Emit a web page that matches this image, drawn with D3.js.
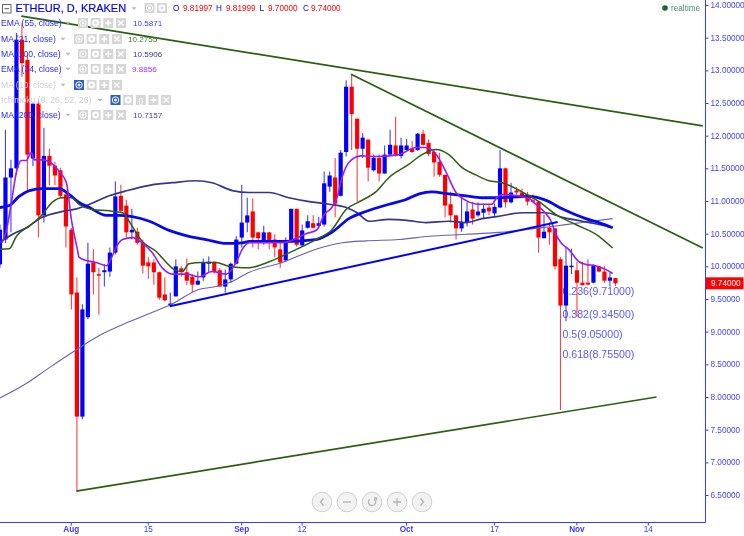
<!DOCTYPE html>
<html><head><meta charset="utf-8">
<script src="https://cdn.jsdelivr.net/npm/d3@7"></script>
<style>
html,body{margin:0;padding:0;background:#fff}
svg{display:block;filter:blur(0.3px)}
text{font-family:"Liberation Sans",Arial,sans-serif}
</style></head><body><svg id="c" width="744" height="536"></svg>
<script>
// ---------- data ----------
const firstDay = -13; // days relative to 1 Aug
const candles = [ // open, high, low, close
[10.03,10.64,9.98,10.56],[10.41,12.09,10.36,11.36],[11.36,11.63,10.52,11.50],[11.50,13.57,11.40,13.47],
[13.47,13.72,12.90,13.11],[13.16,13.24,11.17,11.71],[11.65,12.49,11.53,12.49],[12.49,12.55,10.44,10.78],
[10.78,12.12,10.67,11.69],[11.69,11.80,11.24,11.54],[11.54,11.60,11.24,11.39],[11.47,11.51,11.05,11.08],
[11.10,11.13,10.29,10.61],[10.56,10.59,9.34,9.57],[9.60,9.83,6.56,7.70],[7.70,9.42,7.66,9.34],
[9.22,10.36,9.19,10.04],[10.06,10.26,9.57,9.91],[9.88,9.98,9.26,9.86],[9.91,10.03,9.69,9.94],
[9.92,10.29,9.84,10.21],[10.21,11.30,10.18,11.07],[11.08,11.25,10.82,10.85],[10.93,11.02,10.44,10.52],
[10.52,10.88,10.41,10.56],[10.53,10.59,10.33,10.36],[10.36,10.41,9.89,10.01],[10.06,10.14,9.81,10.00],
[10.06,10.11,9.72,9.91],[9.91,9.92,9.49,9.52],[9.57,9.83,9.46,9.48],[9.42,9.60,9.39,9.43],
[9.54,10.11,9.54,10.00],[9.97,10.00,9.84,9.91],[9.91,10.12,9.71,9.78],[9.84,9.88,9.60,9.72],
[9.72,9.92,9.71,9.78],[9.83,10.12,9.78,10.06],[10.04,10.15,9.91,10.07],[10.07,10.07,9.89,9.91],
[9.94,9.97,9.69,9.69],[9.69,9.95,9.60,9.80],[9.80,10.06,9.75,10.04],[10.04,10.46,10.03,10.41],
[10.44,11.25,10.29,10.67],[10.67,11.05,10.52,10.78],[10.84,11.04,10.29,10.44],[10.52,10.53,10.26,10.43],
[10.38,10.62,10.33,10.52],[10.52,10.53,10.26,10.38],[10.41,10.49,10.14,10.29],[10.26,10.36,9.98,10.06],
[10.09,10.44,10.07,10.36],[10.38,10.88,10.36,10.88],[10.88,10.88,10.30,10.33],[10.32,10.64,10.30,10.55],
[10.59,10.78,10.58,10.69],[10.66,10.78,10.58,10.59],[10.62,10.76,10.59,10.66],[10.64,11.45,10.61,11.27],
[11.22,11.45,11.14,11.39],[11.36,11.66,10.75,10.96],[11.08,11.78,11.07,11.74],[11.75,12.85,11.68,12.75],
[12.75,12.93,11.78,12.33],[12.26,12.26,10.99,11.80],[11.80,12.04,11.66,11.97],[11.94,11.94,11.30,11.51],
[11.47,11.71,11.45,11.66],[11.66,11.71,11.30,11.42],[11.42,11.85,11.42,11.71],[11.71,12.09,11.71,11.86],
[11.85,12.29,11.68,11.69],[11.69,11.97,11.65,11.85],[11.78,11.95,11.77,11.85],[11.80,11.92,11.74,11.75],
[11.78,12.04,11.77,12.03],[12.03,12.09,11.85,11.86],[11.89,11.94,11.69,11.72],[11.75,11.78,11.37,11.59],
[11.60,11.74,11.37,11.40],[11.40,11.40,10.75,10.93],[10.95,11.14,10.67,10.78],[10.78,10.79,10.41,10.58],
[10.58,11.05,10.53,10.67],[10.67,10.99,10.61,10.84],[10.87,10.99,10.64,10.73],[10.78,10.98,10.76,10.84],
[10.82,10.96,10.72,10.88],[10.90,10.95,10.78,10.84],[10.81,10.96,10.75,10.91],[10.90,11.78,10.90,11.50],
[11.50,11.51,10.90,10.98],[10.98,11.28,10.96,11.13],[11.16,11.21,11.05,11.13],[11.13,11.19,11.05,11.07],
[11.10,11.14,10.93,10.99],[11.01,11.10,10.96,10.99],[10.99,10.99,10.21,10.44],[10.43,10.79,10.43,10.53],
[10.59,10.67,10.33,10.52],[10.58,10.58,9.95,10.00],[10.11,10.14,7.80,9.40],[9.40,10.29,9.16,10.01],
[10.00,10.27,9.88,10.01],[9.94,10.07,9.23,9.75],[9.75,10.07,9.71,9.71],[9.75,10.11,9.71,9.72],
[9.75,10.03,9.74,10.01],[10.00,10.01,9.91,9.92],[9.92,10.00,9.75,9.78],[9.78,9.91,9.69,9.83],
[9.82,9.82,9.70,9.74]];

const ema34Days = [-12.5,-11.7,-10.8,-9.9,-9,-8.1,-7.2,-6.6,-5.2,-3.9,-2.1,-0.8,0.1,1.2,1.5,2.8,4.6,6.5,7.5,8.3,9.4,11.2,13,14.8,16.6,18.5,21,23.4,25.7,28.3,30.1,31.2,32.5,33.7,38.5,42.8,44.8,46.1,47.5,48.5,49.4,50.6,52.8,55.5,59.7,62.8,64.6,66.5,68.3,70.1,71.9,74.3,76.6,77.5,78.6,83.4,84.6,86.1,87.4,88.3,89.2,90.6,92.5,93.7,95.5,97.4,98.6];
const ema34Vals = [10.36,10.56,10.98,11.44,11.62,11.62,11.74,11.63,11.63,11.60,11.45,11.28,10.72,10.26,10.14,10.09,10.06,10.01,10.15,10.30,10.41,10.44,10.36,10.21,9.98,9.88,9.88,9.84,9.92,9.88,10.06,10.26,10.36,10.36,10.36,10.50,10.56,10.79,10.90,11.07,11.37,11.59,11.69,11.68,11.71,11.82,11.82,11.71,11.44,11.13,11.01,10.95,10.95,11.05,11.10,11.04,10.95,10.84,10.69,10.49,10.36,10.26,10.07,10.03,10.01,9.95,9.89];
const ema55Days = [-13,-11.2,-9.4,-7.5,-5.2,-2.1,-0.3,1.5,3.4,6.5,8.8,11.2,14.3,17.9,21.5,24.6,28.3,31.2,32.5,38.5,44.6,47.5,50.6,53.7,57.9,60.9,63.4,65.7,68.8,71.9,74.8,77.5,83.4,86.5,89.4,93.7,96.1,98.6];
const ema55Vals = [10.90,10.93,11.07,11.16,11.19,11.19,11.10,10.98,10.90,10.78,10.78,10.76,10.69,10.55,10.46,10.41,10.35,10.36,10.38,10.38,10.41,10.52,10.73,10.84,10.95,11.02,11.11,11.14,11.11,11.08,11.05,11.05,11.07,11.01,10.88,10.73,10.67,10.59];
const ma100Days = [-13,-10.6,-8.1,-5.2,-1.5,1,3.4,7,10.3,14.3,18.5,22.8,25.7,29.4,32.5,36.1,39.7,43.4,47,50.1,52.1,54.3,57.9,61.5,64.6,68.8,71.9,74.8,77.5,82.1,86.5,89.4,93.1,96.1,98.6];
const ma100Vals = [10.36,10.49,10.59,10.75,10.84,10.88,10.95,11.08,11.16,11.24,11.28,11.31,11.28,11.16,11.13,11.13,11.05,10.99,10.95,10.90,10.82,10.69,10.72,10.70,10.67,10.69,10.67,10.73,10.76,10.82,10.82,10.75,10.69,10.64,10.59];
const ma21Days = [-13,-11.2,-9.9,-7.5,-5.2,-3.4,-1.5,0.1,1.5,3.9,7,9.4,11.2,13,15.5,17.4,18.8,20.3,21.5,23.9,26.4,28.8,31.2,32.5,36.1,40.3,44.6,47.5,50.1,52.5,55.5,57.9,61.5,63.9,66.5,68.8,71.2,73.7,76.1,78.5,82.1,85.2,88.3,91.9,96.1,98.6];
const ma21Vals = [10.26,10.27,10.46,10.62,10.79,10.98,11.05,11.05,10.95,10.87,10.85,10.82,10.61,10.38,10.23,10.06,9.95,9.92,10.04,10.06,10.06,10.00,9.98,9.98,10.07,10.23,10.41,10.56,10.87,10.99,11.14,11.36,11.56,11.71,11.79,11.71,11.51,11.40,11.31,11.28,11.14,10.99,10.79,10.64,10.46,10.28];
const ma200Days = [-13,-8.4,-3.9,0.6,5.2,10.6,16.1,17.9,23.4,26.5,28.8,32.5,38.5,44.6,49.4,53.7,59.7,65.2,71.9,77.9,87.5,93,98.6];
const ma200Vals = [7.98,8.19,8.45,8.70,8.94,9.15,9.34,9.40,9.65,9.69,9.75,9.91,10.06,10.26,10.36,10.39,10.41,10.46,10.49,10.52,10.61,10.67,10.73];

const greenTrends = [[[-9,13.83],[115,12.15]],[[51,12.94],[115,10.28]],[[1,6.56],[106.6,8.0]]];
const blueTrend = [[18,9.39],[88.6,10.68]];

const priceTicks = [14,13.5,13,12.5,12,11.5,11,10.5,10,9.5,9,8.5,8,7.5,7,6.5];
const dateTickDays = [0,14,31,42,61,77,92,105];
const dateTickLabels = ["Aug","15","Sep","12","Oct","17","Nov","14"];
const monthLabels = ["Aug","Sep","Oct","Nov"];

const fibLabels = ["0.236(9.71000)","0.382(9.34500)","0.5(9.05000)","0.618(8.75500)"];
const fibPrices = [9.62,9.27,8.96,8.66];

const legendLabels = ["EMA (55, close)","MA (21, close)","MA (100, close)","EMA (34, close)","MA (10, close)","Ichimoku (9, 26, 52, 26)","MA (200, close)"];
const legendValues = ["10.5871","10.2755","10.5906","9.8856","","","10.7157"];
const legendValueColors = ["#3a3aff","#4a7a2a","#3a3a9c","#a033ff","","","#45459f"];
const ohlcKeys = ["O","H","L","C"];
const ohlcVals = ["9.81997","9.81999","9.70000","9.74000"];
const lastPrice = 9.74;

// ---------- scales ----------
const svg = d3.select("#c");
const x = d3.scaleLinear().domain([0,105]).range([70.8,647.8]);
const y = d3.scaleLinear().domain([14,6.5]).range([5,495]);
const BLUE="#0000ff", RED="#ff0000", AX="#3a3aff";

// fib labels (behind candles)
svg.append("g").selectAll("text").data(fibLabels).join("text")
  .attr("x",562.5).attr("y",(d,i)=>y(fibPrices[i])+4)
  .attr("font-size",10.6).attr("fill","#5a5aff").text(d=>d);

// candles
const cg = svg.append("g");
candles.forEach((c,i)=>{
  const d=firstDay+i, X=x(d)+0.6, up=c[3]>=c[0], col=up?BLUE:RED;
  cg.append("line").attr("x1",X).attr("x2",X).attr("y1",y(c[1])).attr("y2",y(c[2]))
    .attr("stroke",col).attr("stroke-width",1.1).attr("opacity",0.75);
  const t=y(Math.max(c[0],c[3])), b=y(Math.min(c[0],c[3]));
  cg.append("rect").attr("x",X-2.1).attr("width",4.2).attr("y",t).attr("height",Math.max(b-t,1.5)).attr("fill",col);
});

// moving averages
const line=d3.line().x(d=>x(d[0])).y(d=>y(d[1])).curve(d3.curveMonotoneX);
const zipS=(a,b)=>a.map((v,i)=>[v,b[i]]);
[[ma200Days,ma200Vals,"#6a5fb5",1.1],[ma100Days,ma100Vals,"#343490",1.7],[ema55Days,ema55Vals,"#0808f0",2.8],
 [ma21Days,ma21Vals,"#2f5d14",1.5],[ema34Days,ema34Vals,"#9a1cf0",1.6]].forEach(s=>{
  svg.append("path").attr("d",line(zipS(s[0],s[1]))).attr("fill","none").attr("stroke",s[2]).attr("stroke-width",s[3]);
});

// trend lines
const tl=d3.line().x(d=>x(d[0])).y(d=>y(d[1]));
greenTrends.forEach(t=>svg.append("path").attr("d",tl(t)).attr("fill","none").attr("stroke","#2c5e12").attr("stroke-width",1.7));
svg.append("path").attr("d",tl(blueTrend)).attr("fill","none").attr("stroke",BLUE).attr("stroke-width",2);

// axes
const yAxis=d3.axisRight(y).tickValues(priceTicks).tickSize(3).tickPadding(2).tickFormat(d3.format(".5f"));
const gy=svg.append("g").attr("transform","translate(705.5,0)").call(yAxis);
gy.select(".domain").attr("d","M0,0V522.5").attr("stroke",AX);
gy.selectAll("line").attr("stroke",AX);
gy.selectAll("text").attr("fill","#4444ff").attr("font-size",8.2);

const xAxis=d3.axisBottom(x).tickValues(dateTickDays).tickSize(3).tickPadding(1).tickFormat((d,i)=>dateTickLabels[i]);
const gx=svg.append("g").attr("transform","translate(0,522.5)").call(xAxis);
gx.select(".domain").attr("d","M0,0H705.5").attr("stroke",AX);
gx.selectAll("line").attr("stroke",AX);
gx.selectAll("text").attr("fill","#3a3aff").attr("font-size",8.2)
  .attr("font-weight",(d,i)=>monthLabels.includes(dateTickLabels[i])?"bold":"normal");

// last price tag
svg.append("rect").attr("x",706).attr("y",y(lastPrice)-6).attr("width",37.5).attr("height",12).attr("fill",RED);
svg.append("text").attr("x",711).attr("y",y(lastPrice)+3).attr("font-size",8.2).attr("fill","#fff").text(d3.format(".5f")(lastPrice));

// header
svg.append("rect").attr("x",2.5).attr("y",4.5).attr("width",8.5).attr("height",8.5).attr("fill","#fff").attr("stroke","#666");
svg.append("path").attr("d","M4.5,8.7H9").attr("stroke","#555");
svg.append("text").attr("x",15.5).attr("y",12).attr("font-size",11).attr("fill",BLUE).attr("stroke",BLUE).attr("stroke-width",0.2).text("ETHEUR, D, KRAKEN");
function arrow(ax,ay){svg.append("path").attr("d",`M${ax-2.5},${ay-1.2}h5l-2.5,2.8z`).attr("fill","#bbb");}
arrow(134,8.5);
function btn(bx,by,kind,active){
  svg.append("rect").attr("x",bx).attr("y",by).attr("width",10).attr("height",10).attr("fill",active?"#2b62c4":"#d6d6d6");
  const cx=bx+5,cy=by+5,g=svg.append("g").attr("fill","none").attr("stroke","#fff");
  if(kind==="eye"){g.append("circle").attr("cx",cx).attr("cy",cy).attr("r",3.2);g.append("circle").attr("cx",cx).attr("cy",cy).attr("r",1).attr("fill","#fff");}
  if(kind==="gear"){g.append("circle").attr("cx",cx).attr("cy",cy).attr("r",2.4).attr("stroke-width",2);}
  if(kind==="plus"){g.append("path").attr("d",`M${cx-3},${cy}H${cx+3}M${cx},${cy-3}V${cy+3}`).attr("stroke-width",1.6);}
  if(kind==="x"){g.append("path").attr("d",`M${cx-2.6},${cy-2.6}L${cx+2.6},${cy+2.6}M${cx+2.6},${cy-2.6}L${cx-2.6},${cy+2.6}`).attr("stroke-width",1.4);}
  if(kind==="brace"){g.append("text").attr("x",cx).attr("y",cy+3).attr("text-anchor","middle").attr("font-size",8).attr("fill","#fff").attr("stroke","none").text("{}");}
}
btn(144.5,3,"eye");btn(157,3,"gear");
const ox=[173,216,259.5,303], vx=[183,226,268,311];
ohlcKeys.forEach((k,i)=>{
  svg.append("text").attr("x",ox[i]).attr("y",11).attr("font-size",8.2).attr("fill",BLUE).text(k);
  svg.append("text").attr("x",vx[i]).attr("y",11).attr("font-size",8.2).attr("fill",RED).text(ohlcVals[i]);
});

// legend rows
const rowY=[23,39,54,69,85,100,115];
const rowBtnX=[78,74,78,78,74,110.5,78];
const rowArrow=[68,63,68,68,63,100,68];
const rowValX=[133,128,133,132,0,0,133];
const rowKinds=[["eye","gear","plus","x"],["eye","gear","plus","x"],["eye","gear","plus","x"],["eye","gear","plus","x"],["eye","gear","plus","x"],["eye","gear","brace","plus","x"],["eye","gear","plus","x"]];
legendLabels.forEach((l,i)=>{
  const muted=i===4||i===5;
  svg.append("text").attr("x",1).attr("y",rowY[i]+3.2).attr("font-size",8.6).attr("fill",muted?"#cfcfcf":"#2a2aff").text(l);
  arrow(rowArrow[i],rowY[i]);
  rowKinds[i].forEach((k,j)=>btn(rowBtnX[i]+j*12.65,rowY[i]-5,k,muted&&j===0));
  if(legendValues[i]) svg.append("text").attr("x",rowValX[i]).attr("y",rowY[i]+3.2).attr("font-size",8.1).attr("fill",legendValueColors[i]).text(legendValues[i]);
});

// realtime
svg.append("circle").attr("cx",665).attr("cy",8).attr("r",2.8).attr("fill","#16633a");
svg.append("text").attr("x",671).attr("y",11).attr("font-size",8.2).attr("fill","#4f8f70").text("realtime");

// zoom controls
const ctrlX=[322,347,372,397,422];
ctrlX.forEach((cx,i)=>{
  const cy=502;
  svg.append("circle").attr("cx",cx).attr("cy",cy).attr("r",9.8).attr("fill","#f2f2f2").attr("stroke","#cfcfcf");
  const p=svg.append("g").attr("fill","none").attr("stroke","#b4b4b4").attr("stroke-width",1.3);
  if(i===0)p.append("path").attr("d",`M${cx+1.5},${cy-3.5}l-3,3.5l3,3.5`);
  if(i===1)p.append("path").attr("d",`M${cx-4},${cy}h8`);
  if(i===2){p.append("path").attr("d",d3.arc()({innerRadius:3.6,outerRadius:3.6,startAngle:0.6,endAngle:5.6})).attr("transform",`translate(${cx},${cy})`);
            p.append("path").attr("d",`M${cx+2},${cy-4}h2.5v2.5`);}
  if(i===3)p.append("path").attr("d",`M${cx-4},${cy}h8M${cx},${cy-4}v8`);
  if(i===4)p.append("path").attr("d",`M${cx-1.5},${cy-3.5}l3,3.5l-3,3.5`);
});
</script></body></html>
